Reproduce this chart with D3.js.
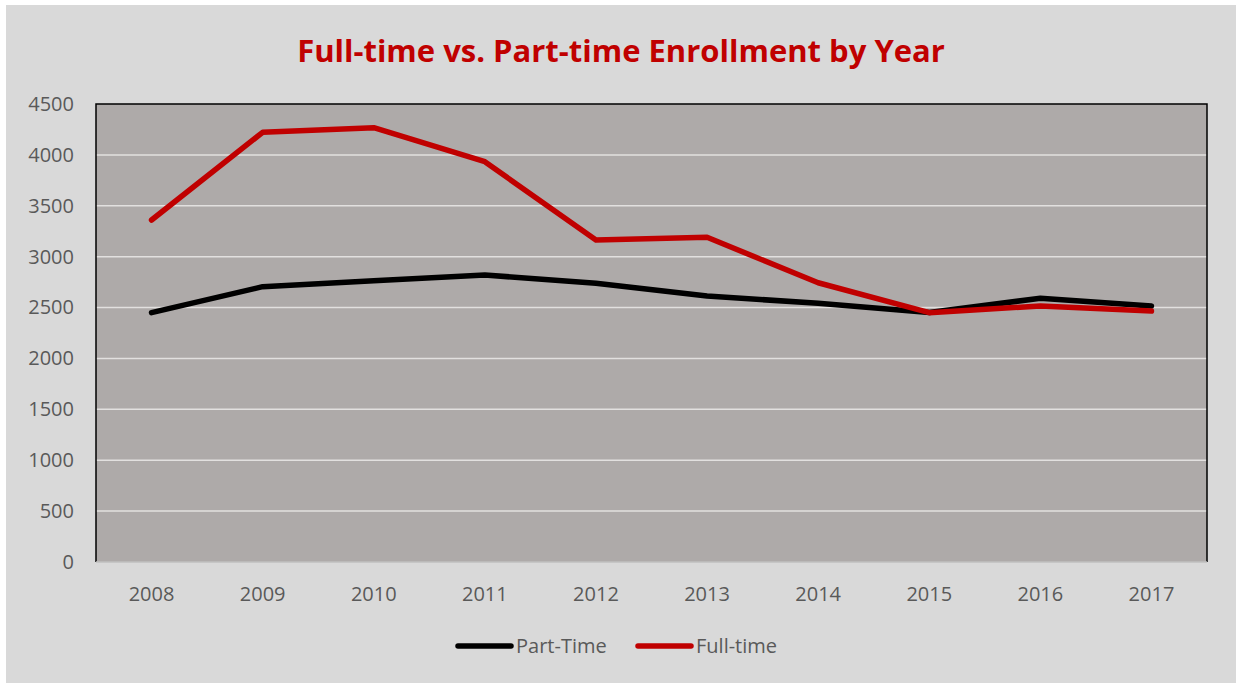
<!DOCTYPE html>
<html lang="en">
<head>
<meta charset="utf-8">
<title>Enrollment by Year</title>
<script src="https://cdn.jsdelivr.net/npm/d3@7"></script>
<style>
  body { margin: 0; background: #fff; }
</style>
</head>
<body>
<script>

var years = ["2008", "2009", "2010", "2011", "2012", "2013", "2014", "2015", "2016", "2017"];
var partTime = [2450, 2705, 2764, 2820, 2738, 2613, 2542, 2452, 2591, 2515];
var fullTime = [3360, 4222, 4267, 3933, 3164, 3190, 2744, 2450, 2515, 2466];
var yTicks = [0, 500, 1000, 1500, 2000, 2500, 3000, 3500, 4000, 4500];

var width = 1236,
    height = 683;

var margin = {top: 104, right: 29, bottom: 121, left: 96};

var svg = d3.select("body")
    .append("svg")
    .attr("width", width)
    .attr("height", height);

// chart background
svg.append("rect")
    .attr("x", 6).attr("y", 5)
    .attr("width", width - 6).attr("height", height - 5)
    .attr("fill", "#d9d9d9");

var x = d3.scaleBand()
    .domain(years)
    .range([margin.left, width - margin.right]);

var y = d3.scaleLinear()
    .domain([0, 4500])
    .range([height - margin.bottom, margin.top]);

// plot area
svg.append("rect")
    .attr("x", margin.left)
    .attr("y", margin.top)
    .attr("width", width - margin.left - margin.right)
    .attr("height", height - margin.top - margin.bottom)
    .attr("fill", "#aeaaa9");

// grid lines
svg.append("g")
    .selectAll("line")
    .data(yTicks.filter(function(d) { return d > 0 && d < 4500; }))
    .enter().append("line")
    .attr("x1", margin.left)
    .attr("x2", width - margin.right)
    .attr("y1", function(d) { return y(d); })
    .attr("y2", function(d) { return y(d); })
    .attr("stroke", "#e2e0df")
    .attr("stroke-width", 1.5);

// frame: black left/top/right, light bottom axis
var x0 = margin.left, x1 = width - margin.right, y0 = y(4500), y1 = y(0);
svg.append("path")
    .attr("d", "M" + x0 + "," + y1 + "V" + y0 + "H" + x1 + "V" + y1)
    .attr("fill", "none")
    .attr("stroke", "#000")
    .attr("stroke-width", 1.5);
svg.append("line")
    .attr("x1", x0).attr("x2", x1)
    .attr("y1", y1).attr("y2", y1)
    .attr("stroke", "#bfbfbf")
    .attr("stroke-width", 1.5);

// y axis labels
var yAxis = d3.axisLeft(y).tickValues(yTicks).tickFormat(d3.format("d")).tickSize(0).tickPadding(22);
var gy = svg.append("g")
    .attr("transform", "translate(" + margin.left + ",0)")
    .call(yAxis);
gy.select(".domain").remove();
gy.selectAll("text")
    .attr("fill", "#595959")
    .style("font-family", "'Open Sans', sans-serif")
    .style("font-size", "20px");

// x axis labels
var xAxis = d3.axisBottom(x).tickSize(0).tickPadding(25);
var gx = svg.append("g")
    .attr("transform", "translate(0," + y1 + ")")
    .call(xAxis);
gx.select(".domain").remove();
gx.selectAll("text")
    .attr("fill", "#595959")
    .style("font-family", "'Open Sans', sans-serif")
    .style("font-size", "20px");

var line = d3.line()
    .x(function(d, i) { return x(years[i]) + x.bandwidth() / 2; })
    .y(function(d) { return y(d); });

var series = [
  {name: "Part-Time", values: partTime, color: "#000000"},
  {name: "Full-time", values: fullTime, color: "#c00000"}
];

svg.append("g")
    .selectAll("path")
    .data(series)
    .enter().append("path")
    .attr("d", function(d) { return line(d.values); })
    .attr("fill", "none")
    .attr("stroke", function(d) { return d.color; })
    .attr("stroke-width", 5.5)
    .attr("stroke-linejoin", "round")
    .attr("stroke-linecap", "round");

// title
svg.append("text")
    .attr("x", 621)
    .attr("y", 62)
    .attr("text-anchor", "middle")
    .attr("fill", "#c00000")
    .style("font-family", "'Open Sans', sans-serif")
    .style("font-weight", "bold")
    .style("font-size", "31px")
    .text("Full-time vs. Part-time Enrollment by Year");

// legend
var legendX = [458, 638];
var legend = svg.append("g")
    .selectAll("g")
    .data(series)
    .enter().append("g")
    .attr("transform", function(d, i) { return "translate(" + legendX[i] + ",646)"; });

legend.append("line")
    .attr("x1", 0).attr("x2", 53)
    .attr("stroke", function(d) { return d.color; })
    .attr("stroke-width", 5.5)
    .attr("stroke-linecap", "round");

legend.append("text")
    .attr("x", 58)
    .attr("dy", "0.35em")
    .attr("fill", "#595959")
    .style("font-family", "'Open Sans', sans-serif")
    .style("font-size", "20px")
    .text(function(d) { return d.name; });

</script>
</body>
</html>
